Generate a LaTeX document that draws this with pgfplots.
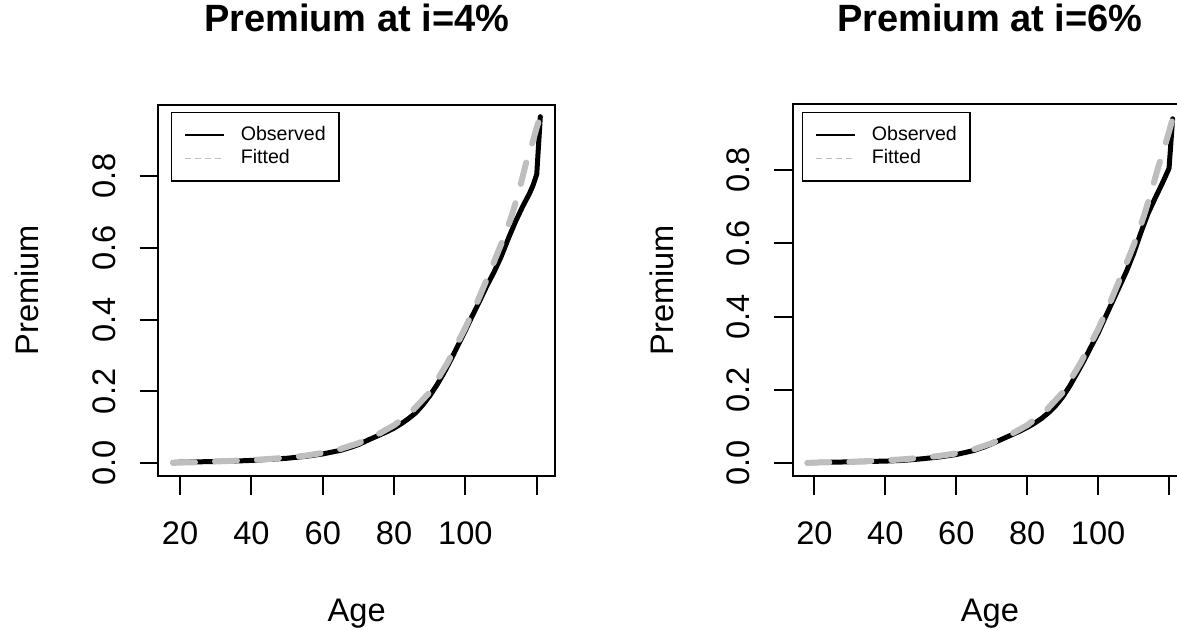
\documentclass[border=0pt]{standalone}
\usepackage{fontspec}
\setmainfont{Liberation Sans}
\usepackage{pgfplots}
\usepackage{pgfplotstable}
\pgfplotsset{compat=1.18}
\definecolor{rgray}{RGB}{190,190,190}

\pgfplotstableread{
age prem
18 0.002
20 0.003
25 0.004
30 0.005
35 0.006
40 0.008
45 0.011
50 0.014
55 0.019
60 0.026
65 0.036
68 0.045
70 0.052
73 0.066
76 0.079
78 0.088
80 0.098
82 0.110
84 0.124
86 0.140
88 0.162
90 0.188
92 0.218
94 0.252
96 0.290
98 0.330
100 0.370
102 0.412
104 0.452
106 0.494
108 0.532
110 0.575
112 0.625
114 0.672
116 0.714
118 0.752
119 0.775
120 0.805
121 0.965
}\obsA

\pgfplotstableread{
age prem
18 0.001
20 0.002
25 0.003
30 0.005
35 0.007
40 0.009
45 0.012
50 0.016
55 0.021
60 0.029
65 0.040
70 0.056
75 0.078
80 0.106
85 0.145
90 0.198
95 0.280
100 0.378
103 0.442
106 0.512
109 0.585
111 0.634
113 0.690
115 0.757
117 0.836
119 0.900
120 0.935
121 0.965
}\fitA

\pgfplotstableread{
age prem
18 0.001
20 0.002
25 0.003
30 0.004
35 0.005
40 0.006
45 0.008
50 0.012
55 0.017
60 0.024
65 0.035
68 0.045
70 0.053
72 0.062
75 0.075
78 0.088
80 0.098
82 0.109
84 0.122
86 0.138
88 0.157
90 0.181
92 0.211
94 0.245
96 0.280
98 0.318
100 0.355
102 0.398
104 0.440
106 0.482
108 0.524
110 0.572
112 0.628
114 0.680
116 0.722
118 0.762
119 0.783
120 0.805
121 0.940
}\obsB

\pgfplotstableread{
age prem
18 0.001
20 0.002
25 0.003
30 0.004
35 0.006
40 0.008
45 0.011
50 0.015
55 0.020
60 0.027
65 0.038
70 0.055
75 0.077
80 0.104
85 0.141
90 0.193
95 0.273
100 0.366
103 0.430
106 0.500
109 0.570
111 0.620
113 0.678
115 0.741
117 0.810
119 0.872
120 0.905
121 0.940
}\fitB

\pgfplotsset{rstyle/.style={
  scale only axis, height=185.75pt, anchor=south west,
  xmin=13.88, xmax=125.12,
  axis line style={line width=1pt},
  every tick/.style={black, line width=1pt},
  tick align=outside, major tick length=9.3pt,
  xtick={20,40,60,80,100,120}, xticklabels={20,40,60,80,100,{}},
  ytick={0,0.2,0.4,0.6,0.8}, yticklabels={0.0,0.2,0.4,0.6,0.8},
  xtick pos=bottom, ytick pos=left,
  /pgf/number format/assume math mode=true,
  tick label style={font=\fontsize{16.3}{19}\selectfont, inner sep=0pt},
  xticklabel style={anchor=north},
  yticklabel style={rotate=90, anchor=base},
  xticklabel shift=13.5pt, yticklabel shift=12.3pt,
  xlabel=Age, ylabel=Premium,
  label style={font=\fontsize{16.3}{19}\selectfont, inner sep=0pt},
  xlabel style={at={(axis description cs:0.5,0)}, anchor=base, yshift=-72.85pt},
  title style={font=\bfseries\fontsize{19}{23}\selectfont, at={(axis description cs:0.5,1)}, anchor=center, yshift=37.25pt, inner sep=0pt},
  legend style={anchor=north west, draw=black, line width=0.8pt,
    inner xsep=6.5pt, inner ysep=5.4pt, row sep=0pt,
    font=\fontsize{9.8}{11.7}\selectfont,
    nodes={inner sep=0pt, text height=8.6pt, text depth=3.1pt}},
  legend cell align=left,
  legend image code/.code={\draw[#1] (0pt,0pt) -- (19.5pt,0pt); \path (27.5pt,0pt);},
}}

\begin{document}
\begin{tikzpicture}
\path[use as bounding box, clip] (0,0) rectangle (588.5pt,315pt);
\begin{axis}[rstyle, at={(79.15pt,77pt)}, width=198.35pt,
  ymin=-0.0354, ymax=0.999,
  title={Premium at i=4\%},
  ylabel style={at={(axis description cs:-0.303,0.5)}, anchor=base},
  legend style={at={(rel axis cs:0.031,0.981)}}]
\addlegendimage{black, line width=0.7pt}
\addlegendentry{Observed}
\addlegendimage{rgray, line width=0.7pt, dash pattern=on 3pt off 2pt}
\addlegendentry{Fitted}
\addplot[black, line width=2.5pt, line join=round, line cap=round, forget plot] table[x=age, y=prem] {\obsA};
\addplot[rgray, line width=3pt, line join=round, line cap=round, dash pattern=on 11pt off 10pt, forget plot] table[x=age, y=prem] {\fitA};
\end{axis}
\begin{axis}[rstyle, at={(396.35pt,77pt)}, width=197.25pt,
  ymin=-0.0346, ymax=0.979,
  title={Premium at i=6\%},
  ylabel style={at={(axis description cs:-0.301,0.5)}, anchor=base},
  legend style={at={(rel axis cs:0.0228,0.981)}}]
\addlegendimage{black, line width=0.7pt}
\addlegendentry{Observed}
\addlegendimage{rgray, line width=0.7pt, dash pattern=on 3pt off 2pt}
\addlegendentry{Fitted}
\addplot[black, line width=2.5pt, line join=round, line cap=round, forget plot] table[x=age, y=prem] {\obsB};
\addplot[rgray, line width=3pt, line join=round, line cap=round, dash pattern=on 11pt off 10pt, forget plot] table[x=age, y=prem] {\fitB};
\end{axis}
\end{tikzpicture}
\end{document}
